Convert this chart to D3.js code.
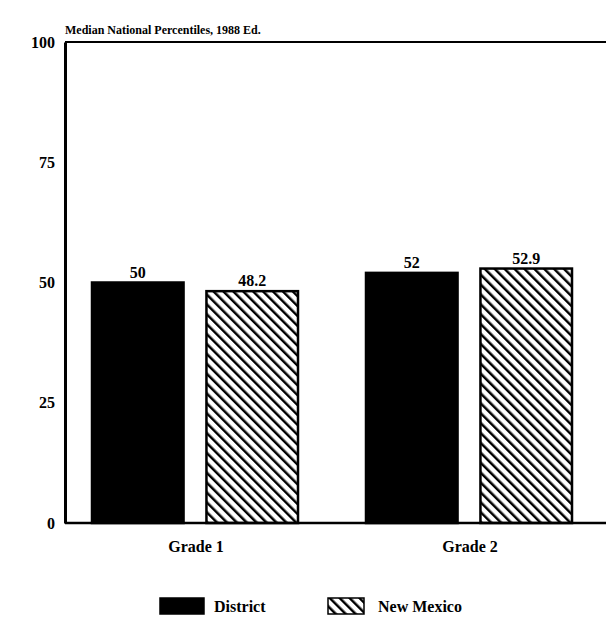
<!DOCTYPE html>
<html>
<head>
<meta charset="utf-8">
<script src="https://cdn.jsdelivr.net/npm/d3@7"></script>
<style>
  body { margin: 0; background: #fff; }
  svg { display: block; font-family: "Liberation Serif", "DejaVu Serif", serif; }
</style>
</head>
<body>
<svg id="chart"></svg>
<script>
// data
let grades = ["Grade 1", "Grade 2"];
let series = ["District", "New Mexico"];
let district = [50, 52];
let newMexico = [48.2, 52.9];
let valueLabels = [["50", "48.2"], ["52", "52.9"]];
let yTicks = [0, 25, 50, 75, 100];

let width = 606, height = 617;
let svg = d3.select('#chart').attr('width', width).attr('height', height);

// 填充图案 (斜线 \\)
let defs = svg.append('defs');
let pat = defs.append('pattern')
    .attr('id', 'hatch')
    .attr('patternUnits', 'userSpaceOnUse')
    .attr('width', 7).attr('height', 7)
    .attr('patternTransform', 'rotate(-45)');
pat.append('rect').attr('width', 7).attr('height', 7).attr('fill', '#fff');
pat.append('line')
    .attr('x1', 0).attr('y1', 0).attr('x2', 0).attr('y2', 7)
    .attr('stroke', '#000').attr('stroke-width', 5);

let margin = { top: 42, right: 0, bottom: 94, left: 65 };
let y = d3.scaleLinear([0, 100], [height - margin.bottom, margin.top]);
let x0 = d3.scaleBand(grades, [59, 607]);
let x1 = d3.scaleBand(series, [33, 239]).paddingInner(0.2);

let rows = grades.map((g, i) => ({ grade: g, values: [district[i], newMexico[i]], labels: valueLabels[i] }));

// title
svg.append('text')
    .attr('x', margin.left).attr('y', 34)
    .attr('font-size', 12).attr('font-weight', 'bold')
    .text('Median National Percentiles, 1988 Ed.');

// bars
let groups = svg.append('g').selectAll('g')
    .data(rows).join('g')
    .attr('transform', d => `translate(${x0(d.grade)},0)`);

groups.selectAll('rect')
    .data(d => d.values.map((v, j) => ({ key: series[j], value: v })))
    .join('rect')
    .attr('x', d => x1(d.key))
    .attr('y', d => y(d.value))
    .attr('width', x1.bandwidth())
    .attr('height', d => y(0) - y(d.value))
    .attr('fill', d => d.key === 'District' ? '#000' : 'url(#hatch)')
    .attr('stroke', '#000')
    .attr('stroke-width', 2.5);

groups.selectAll('text')
    .data(d => d.values.map((v, j) => ({ key: series[j], value: v, label: d.labels[j] })))
    .join('text')
    .attr('x', d => x1(d.key) + x1.bandwidth() / 2)
    .attr('y', d => y(d.value) - 5)
    .attr('text-anchor', 'middle')
    .attr('font-size', 16).attr('font-weight', 'bold')
    .text(d => d.label);

// axes
let yAxis = d3.axisLeft(y).tickValues(yTicks).tickSize(0).tickPadding(10);
svg.append('g')
    .attr('transform', `translate(${margin.left},0)`)
    .call(yAxis)
    .call(g => g.select('.domain').attr('stroke-width', 3))
    .call(g => g.selectAll('text').attr('font-size', 16).attr('font-weight', 'bold')
        .attr('font-family', '"Liberation Serif", serif').attr('fill', '#000'));

// top line and baseline
svg.append('line')
    .attr('x1', margin.left).attr('x2', width)
    .attr('y1', y(100)).attr('y2', y(100))
    .attr('stroke', '#000').attr('stroke-width', 2);
svg.append('line')
    .attr('x1', margin.left).attr('x2', width)
    .attr('y1', y(0)).attr('y2', y(0))
    .attr('stroke', '#000').attr('stroke-width', 2.5);

// category labels
svg.append('g').selectAll('text')
    .data(grades).join('text')
    .attr('x', d => x0(d) + x0.bandwidth() / 2)
    .attr('y', y(0) + 29)
    .attr('text-anchor', 'middle')
    .attr('font-size', 16).attr('font-weight', 'bold')
    .text(d => d);

// legend
let legendX = [160, 328];
let legend = svg.append('g').selectAll('g')
    .data(series).join('g')
    .attr('transform', (d, i) => `translate(${legendX[i]},598)`);
legend.append('rect')
    .attr('width', (d, i) => i === 0 ? 44 : 36).attr('height', 16)
    .attr('fill', (d, i) => i === 0 ? '#000' : 'url(#hatch)')
    .attr('stroke', '#000').attr('stroke-width', 1.5);
legend.append('text')
    .attr('x', (d, i) => i === 0 ? 54 : 50)
    .attr('y', 14)
    .attr('font-size', 16).attr('font-weight', 'bold')
    .text(d => d);
</script>
</body>
</html>
